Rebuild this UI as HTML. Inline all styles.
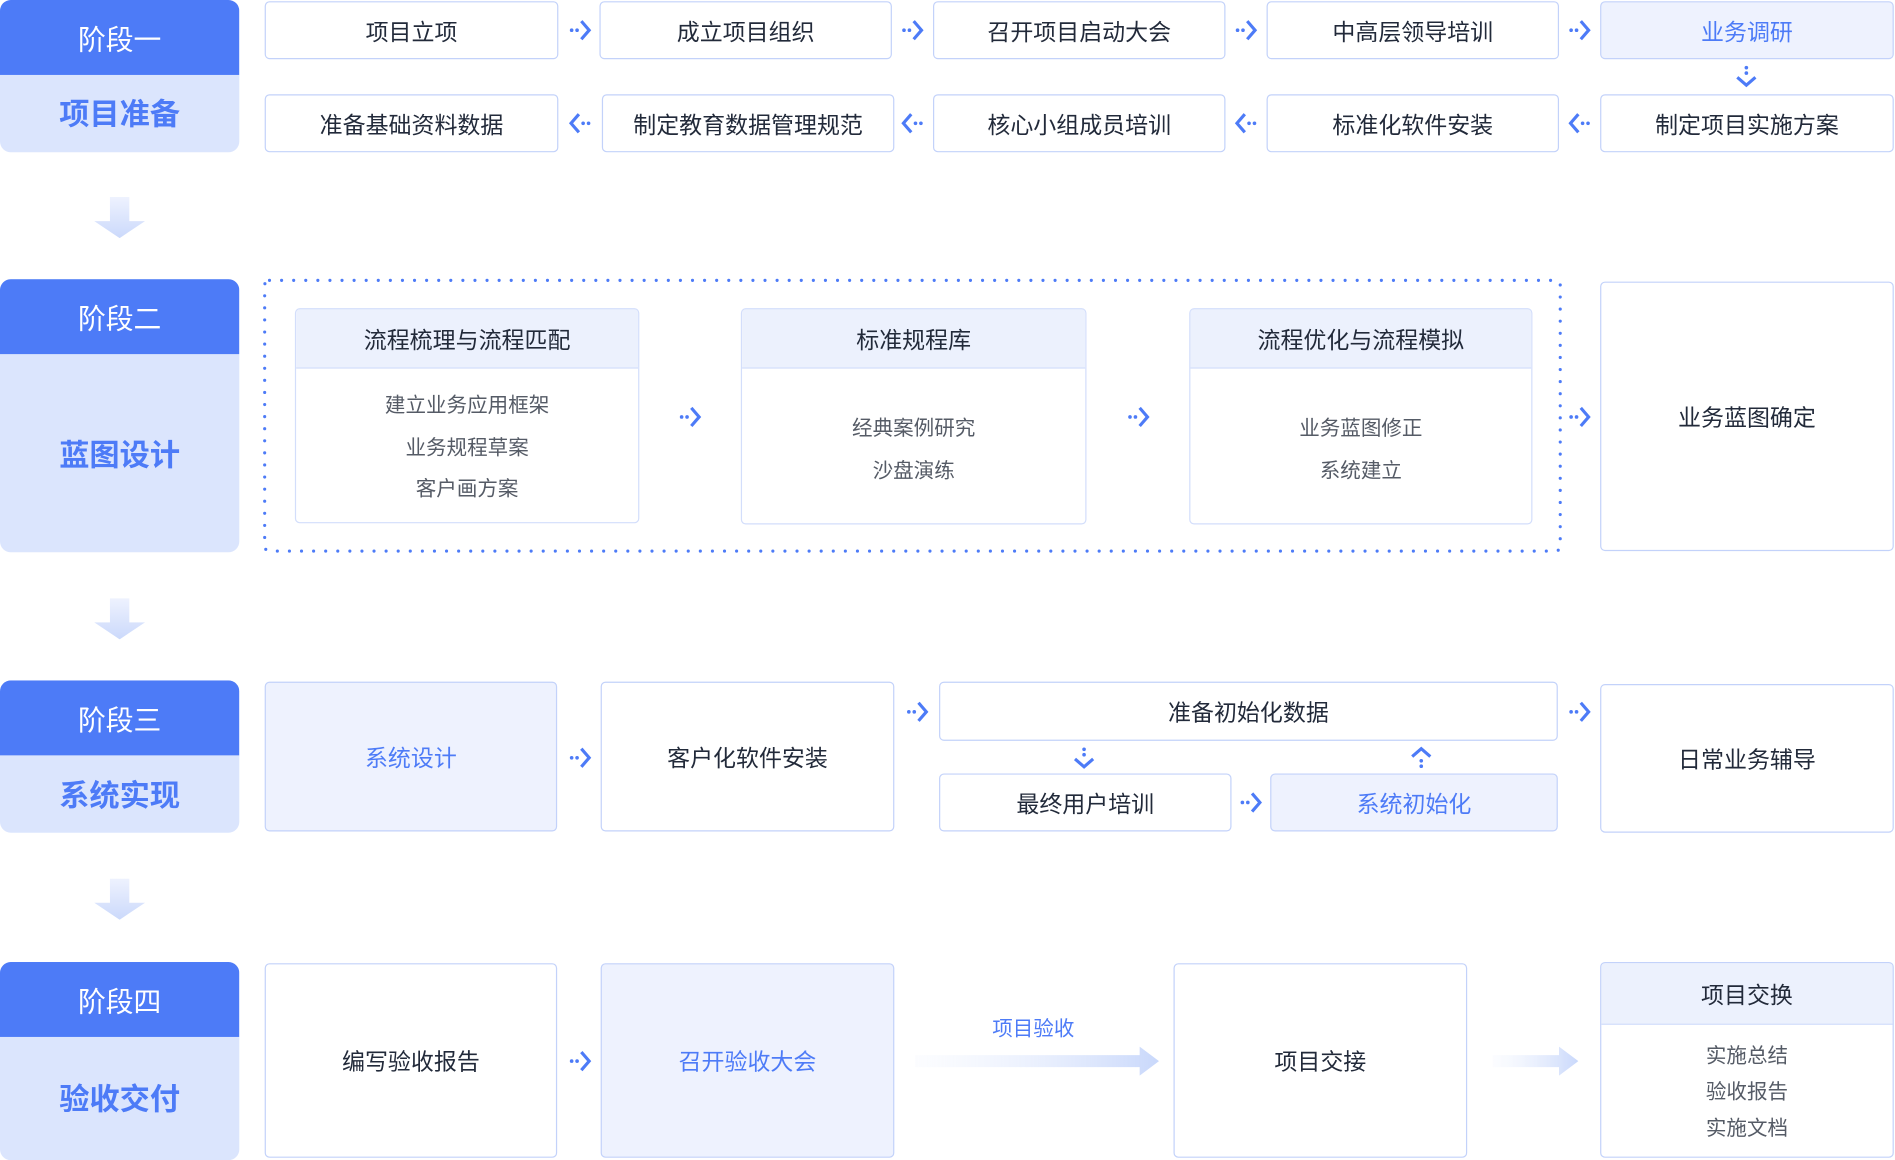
<!DOCTYPE html>
<html><head><meta charset="utf-8"><style>
html,body{margin:0;padding:0;background:#fff;width:1895px;height:1160px;overflow:hidden}
#w{position:absolute;left:0;top:0;width:1568px;height:960px;transform:scale(1.20855);transform-origin:0 0;font-family:"Liberation Sans","Noto Sans CJK SC",sans-serif}
.a{position:absolute;box-sizing:border-box}
.n{position:absolute;box-sizing:border-box;border:1.5px solid #c3d2fa;border-radius:4px;background:#fff;display:flex;align-items:center;justify-content:center;font-size:19px;color:#222a3a}
.f{background:#eef2fe;color:#4d7bf7}
.st{position:absolute;left:0;width:198px;border-radius:9px;overflow:hidden;background:#dbe5fd}
.sh{height:62px;background:#4d7bf7;color:#fff;font-size:23px;display:flex;align-items:center;justify-content:center}
.sl{position:absolute;left:0;right:0;color:#4d7bf7;font-size:25px;font-weight:bold;text-align:center}
.ar{position:absolute;width:20px;height:20px}
.card{position:absolute;box-sizing:border-box;border:1.5px solid #d3defb;border-radius:4px;background:#fff;overflow:hidden}
.ch{height:48px;background:#ecf1fd;border-bottom:1.5px solid #d3defb;display:flex;align-items:center;justify-content:center;font-size:19px;color:#222a3a}
.it{position:absolute;left:0;right:0;text-align:center;font-size:17px;color:#555b66}
.da{position:absolute;width:42px;height:34px}
</style></head><body><div id="w">
<svg width="0" height="0" style="position:absolute"><defs>
<g id="R"><circle cx="3" cy="10" r="1.5" fill="#4d7bf7"/><circle cx="7.5" cy="10" r="1.5" fill="#4d7bf7"/><path d="M11 2.5 L17.5 10 L11 17.5" fill="none" stroke="#4d7bf7" stroke-width="2.6"/></g>
<linearGradient id="gv" x1="0" y1="0" x2="0" y2="1"><stop offset="0" stop-color="#eef2fe"/><stop offset="1" stop-color="#cbd9fb"/></linearGradient>
<linearGradient id="gh" x1="0" y1="0" x2="1" y2="0"><stop offset="0" stop-color="#f4f7fe" stop-opacity="0.3"/><stop offset="1" stop-color="#c9d8fb"/></linearGradient>
</defs></svg>

<!-- stages -->
<div class="st" style="top:0;height:126px"><div class="sh">阶段一</div><div class="sl" style="top:75px">项目准备</div></div>
<div class="st" style="top:231px;height:226px"><div class="sh">阶段二</div><div class="sl" style="top:126px">蓝图设计</div></div>
<div class="st" style="top:563px;height:126px"><div class="sh">阶段三</div><div class="sl" style="top:76px">系统实现</div></div>
<div class="st" style="top:796px;height:164px"><div class="sh">阶段四</div><div class="sl" style="top:94px">验收交付</div></div>
<svg class="da" style="left:78px;top:163px" viewBox="0 0 42 34"><path d="M13 0 H29 V20 H42 L21 34 L0 20 H13 Z" fill="url(#gv)"/></svg>
<svg class="da" style="left:78px;top:495px" viewBox="0 0 42 34"><path d="M13 0 H29 V20 H42 L21 34 L0 20 H13 Z" fill="url(#gv)"/></svg>
<svg class="da" style="left:78px;top:727px" viewBox="0 0 42 34"><path d="M13 0 H29 V20 H42 L21 34 L0 20 H13 Z" fill="url(#gv)"/></svg>

<!-- stage 1 -->
<div class="n" style="left:219px;top:1px;width:243px;height:48px">项目立项</div>
<div class="n" style="left:496px;top:1px;width:242px;height:48px">成立项目组织</div>
<div class="n" style="left:772px;top:1px;width:242px;height:48px">召开项目启动大会</div>
<div class="n" style="left:1048px;top:1px;width:242px;height:48px">中高层领导培训</div>
<div class="n f" style="left:1324px;top:1px;width:243px;height:48px">业务调研</div>
<div class="n" style="left:219px;top:78px;width:243px;height:48px">准备基础资料数据</div>
<div class="n" style="left:498px;top:78px;width:242px;height:48px">制定教育数据管理规范</div>
<div class="n" style="left:772px;top:78px;width:242px;height:48px">核心小组成员培训</div>
<div class="n" style="left:1048px;top:78px;width:242px;height:48px">标准化软件安装</div>
<div class="n" style="left:1324px;top:78px;width:243px;height:48px">制定项目实施方案</div>
<svg class="ar" style="left:470px;top:15px"><use href="#R"/></svg>
<svg class="ar" style="left:745px;top:15px"><use href="#R"/></svg>
<svg class="ar" style="left:1021px;top:15px"><use href="#R"/></svg>
<svg class="ar" style="left:1297px;top:15px"><use href="#R"/></svg>
<svg class="ar" style="left:470px;top:92px;transform:scaleX(-1)"><use href="#R"/></svg>
<svg class="ar" style="left:745px;top:92px;transform:scaleX(-1)"><use href="#R"/></svg>
<svg class="ar" style="left:1021px;top:92px;transform:scaleX(-1)"><use href="#R"/></svg>
<svg class="ar" style="left:1297px;top:92px;transform:scaleX(-1)"><use href="#R"/></svg>
<svg class="ar" style="left:1435px;top:53px;transform:rotate(90deg)"><use href="#R"/></svg>

<!-- stage 2 -->
<svg class="a" style="left:217px;top:230px" width="1076" height="228"><rect x="2" y="2" width="1072" height="224" rx="4" fill="none" stroke="#4d7bf7" stroke-width="2.6" stroke-linecap="round" stroke-dasharray="0 10"/></svg>
<div class="card" style="left:244px;top:255px;width:285px;height:178px"><div class="ch">流程梳理与流程匹配</div>
<div class="it" style="top:65px">建立业务应用框架</div><div class="it" style="top:100px">业务规程草案</div><div class="it" style="top:134px">客户画方案</div></div>
<div class="card" style="left:613px;top:255px;width:286px;height:179px"><div class="ch">标准规程库</div>
<div class="it" style="top:84px">经典案例研究</div><div class="it" style="top:119px">沙盘演练</div></div>
<div class="card" style="left:984px;top:255px;width:284px;height:179px"><div class="ch">流程优化与流程模拟</div>
<div class="it" style="top:84px">业务蓝图修正</div><div class="it" style="top:119px">系统建立</div></div>
<svg class="ar" style="left:561px;top:335px"><use href="#R"/></svg>
<svg class="ar" style="left:932px;top:335px"><use href="#R"/></svg>
<svg class="ar" style="left:1297px;top:335px"><use href="#R"/></svg>
<div class="n" style="left:1324px;top:233px;width:243px;height:223px">业务蓝图确定</div>

<!-- stage 3 -->
<div class="n f" style="left:219px;top:564px;width:242px;height:124px">系统设计</div>
<div class="n" style="left:497px;top:564px;width:243px;height:124px">客户化软件安装</div>
<div class="n" style="left:777px;top:564px;width:512px;height:49px">准备初始化数据</div>
<div class="n" style="left:777px;top:640px;width:242px;height:48px">最终用户培训</div>
<div class="n f" style="left:1051px;top:640px;width:238px;height:48px">系统初始化</div>
<div class="n" style="left:1324px;top:566px;width:243px;height:123px">日常业务辅导</div>
<svg class="ar" style="left:470px;top:617px"><use href="#R"/></svg>
<svg class="ar" style="left:749px;top:579px"><use href="#R"/></svg>
<svg class="ar" style="left:1297px;top:579px"><use href="#R"/></svg>
<svg class="ar" style="left:1025px;top:654px"><use href="#R"/></svg>
<svg class="ar" style="left:887px;top:617px;transform:rotate(90deg)"><use href="#R"/></svg>
<svg class="ar" style="left:1166px;top:617px;transform:rotate(-90deg)"><use href="#R"/></svg>

<!-- stage 4 -->
<div class="n" style="left:219px;top:797px;width:242px;height:161px">编写验收报告</div>
<div class="n f" style="left:497px;top:797px;width:243px;height:161px">召开验收大会</div>
<div class="n" style="left:971px;top:797px;width:243px;height:161px">项目交接</div>
<svg class="ar" style="left:470px;top:868px"><use href="#R"/></svg>
<div class="a" style="left:800px;top:837px;width:110px;text-align:center;font-size:17px;color:#4d7bf7">项目验收</div>
<svg class="a" style="left:757px;top:866px" width="202" height="24" viewBox="0 0 202 24"><path d="M0 7 H186 V0 L202 12 L186 24 V17 H0 Z" fill="url(#gh)"/></svg>
<svg class="a" style="left:1235px;top:866px" width="71" height="24" viewBox="0 0 71 24"><path d="M0 7 H55 V0 L71 12 L55 24 V17 H0 Z" fill="url(#gh)"/></svg>
<div class="card" style="left:1324px;top:796px;width:243px;height:162px;border-color:#c3d2fa"><div class="ch" style="height:50px">项目交换</div>
<div class="it" style="top:62px">实施总结</div><div class="it" style="top:92px">验收报告</div><div class="it" style="top:122px">实施文档</div></div>
</div></body></html>
